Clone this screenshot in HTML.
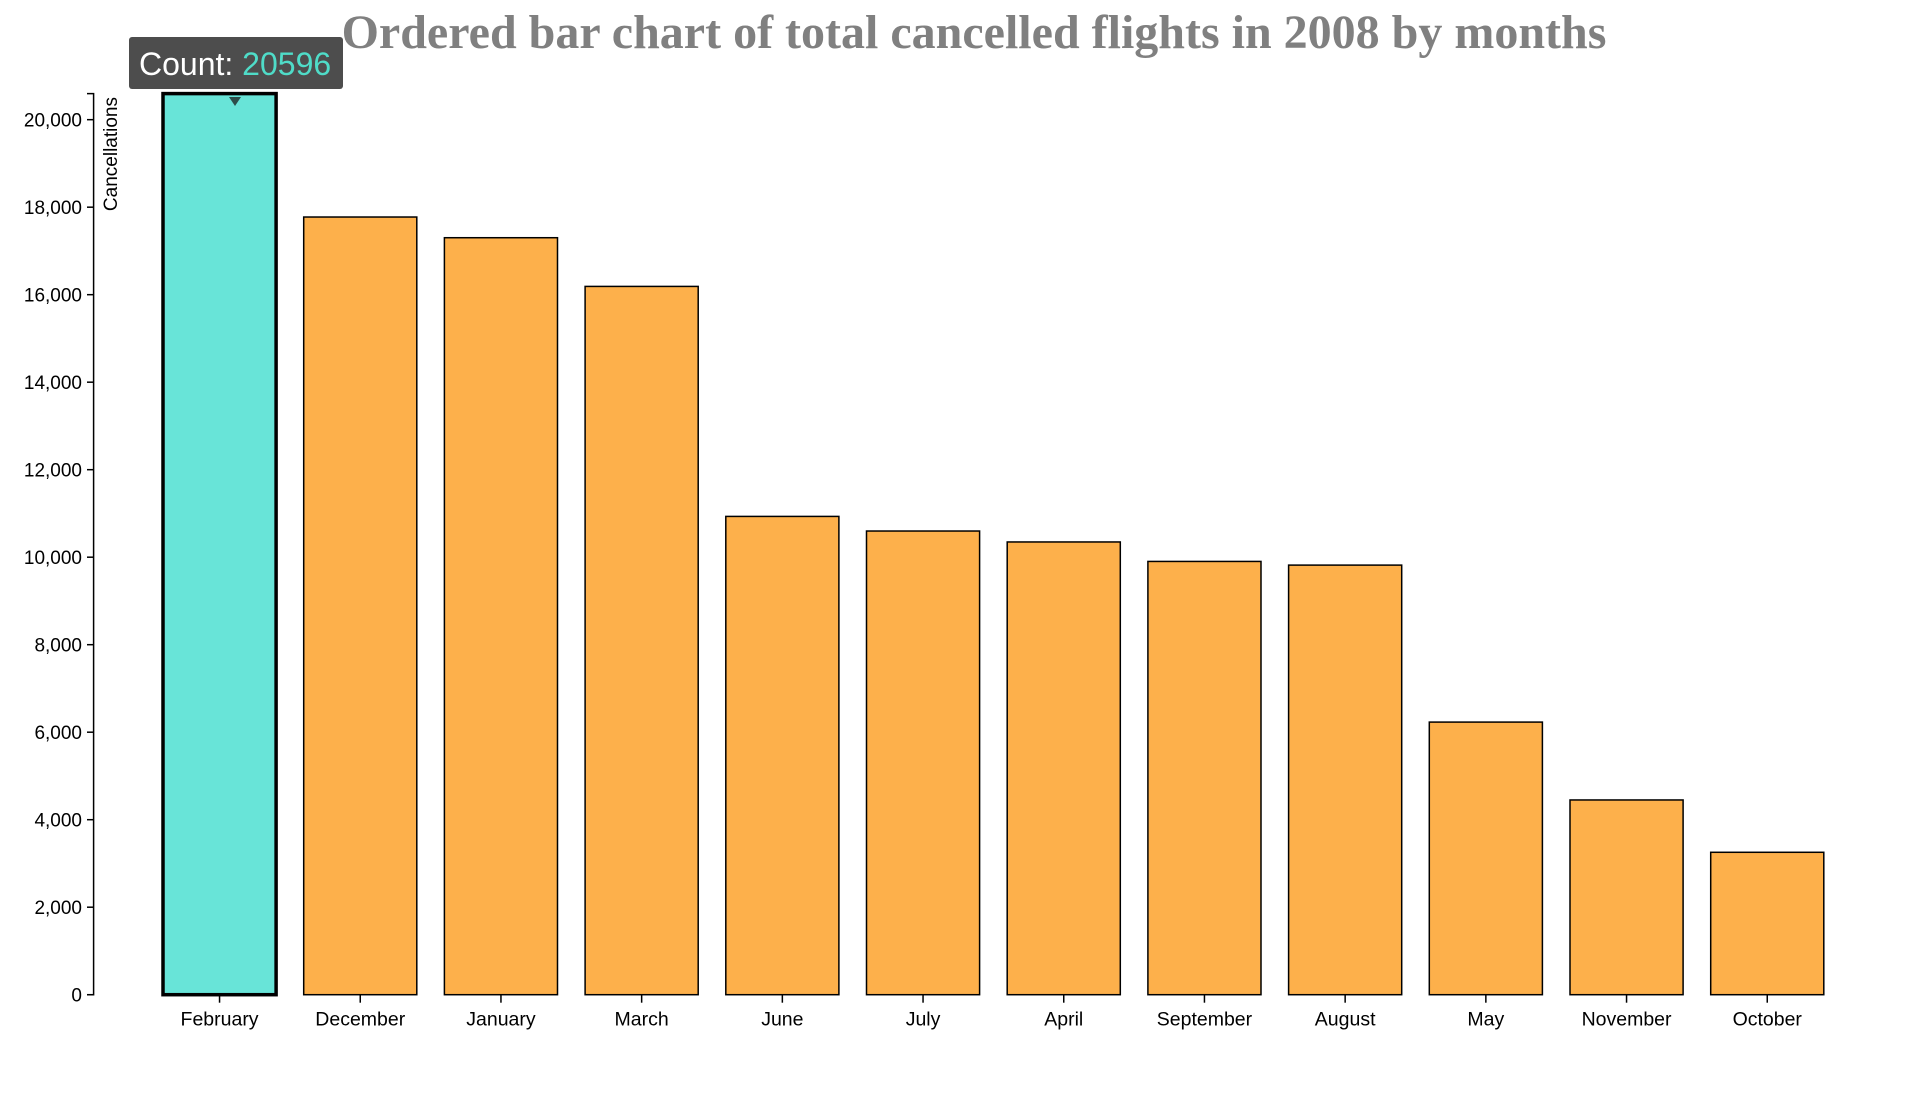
<!DOCTYPE html>
<html><head><meta charset="utf-8"><style>
html,body{margin:0;padding:0;background:#fff;}
svg{display:block;font-family:"Liberation Sans",sans-serif;}
</style></head><body>
<svg id="chart" width="1905" height="1107">
<text x="974" y="48" text-anchor="middle" font-family="Liberation Serif,serif" font-weight="bold" font-size="48" fill="#808080">Ordered bar chart of total cancelled flights in 2008 by months</text>
<g id="bars"></g>
<g id="yaxis"></g>
<g id="xaxis"></g>
<text transform="translate(117,97) rotate(-90)" text-anchor="end" font-size="19" fill="#000">Cancellations</text>
<g>
<rect x="129" y="37" width="214" height="52" rx="3" fill="#4d4d4d"></rect>
<text x="139" y="75" font-size="32" fill="#fff">Count: <tspan fill="#4fdcc8" id="tipval">20596</tspan></text>
<path d="M229,97 L241,97 L235,106 Z" fill="#2d4d4a"></path>
</g>
</svg>
<script>
const months = ["February","December","January","March","June","July","April","September","August","May","November","October"];
const counts = [20596,17775,17302,16189,10932,10598,10348,9903,9819,6231,4451,3255];
const yTicks = [0,2000,4000,6000,8000,10000,12000,14000,16000,18000,20000];
const NS="http://www.w3.org/2000/svg";
const y0=994.7, yTop=93.6;
const maxV=Math.max(...counts);
function y(v){return y0-(v/maxV)*(y0-yTop);}
const step=140.7, bw=113.1, xStart=163;
function x(i){return xStart+i*step;}
document.getElementById('tipval').textContent=String(maxV);
const bars=document.getElementById('bars');
counts.forEach((v,i)=>{
  const r=document.createElementNS(NS,'rect');
  
  
  r.setAttribute('x',x(i));r.setAttribute('y',y(v));
  r.setAttribute('width',bw);r.setAttribute('height',y0-y(v));
  const hi=i===0;
  r.setAttribute('fill',hi?'#68e4d8':'#fdb04b');
  r.setAttribute('stroke','#000');r.setAttribute('stroke-width',hi?3.5:1.5);
  bars.appendChild(r);
});
const ya=document.getElementById('yaxis');
const axl=document.createElementNS(NS,'path');
axl.setAttribute('d','M87,'+yTop+'H93.6V'+y0+'H87');
axl.setAttribute('fill','none');axl.setAttribute('stroke','#000');axl.setAttribute('stroke-width','1.5');
ya.appendChild(axl);
yTicks.forEach(t=>{
  const l=document.createElementNS(NS,'line');
  l.setAttribute('x1',87);l.setAttribute('x2',93.6);l.setAttribute('y1',y(t));l.setAttribute('y2',y(t));
  l.setAttribute('stroke','#000');l.setAttribute('stroke-width','1.5');
  ya.appendChild(l);
  const tx=document.createElementNS(NS,'text');
  
  
  tx.setAttribute('x',82);tx.setAttribute('y',y(t)+7);tx.setAttribute('text-anchor','end');tx.setAttribute('font-size','19');
  tx.textContent=t.toLocaleString('en-US');
  ya.appendChild(tx);
});
const xa=document.getElementById('xaxis');
months.forEach((m,i)=>{
  const cx=x(i)+bw/2;
  const l=document.createElementNS(NS,'line');
  l.setAttribute('x1',cx);l.setAttribute('x2',cx);l.setAttribute('y1',y0);l.setAttribute('y2',y0+8);
  l.setAttribute('stroke','#000');l.setAttribute('stroke-width','1.5');
  xa.appendChild(l);
  const tx=document.createElementNS(NS,'text');
  
  
  tx.setAttribute('x',cx);tx.setAttribute('y',y0+31);tx.setAttribute('text-anchor','middle');tx.setAttribute('font-size','19.5');
  tx.textContent=m;
  xa.appendChild(tx);
});
</script>
</body></html>
